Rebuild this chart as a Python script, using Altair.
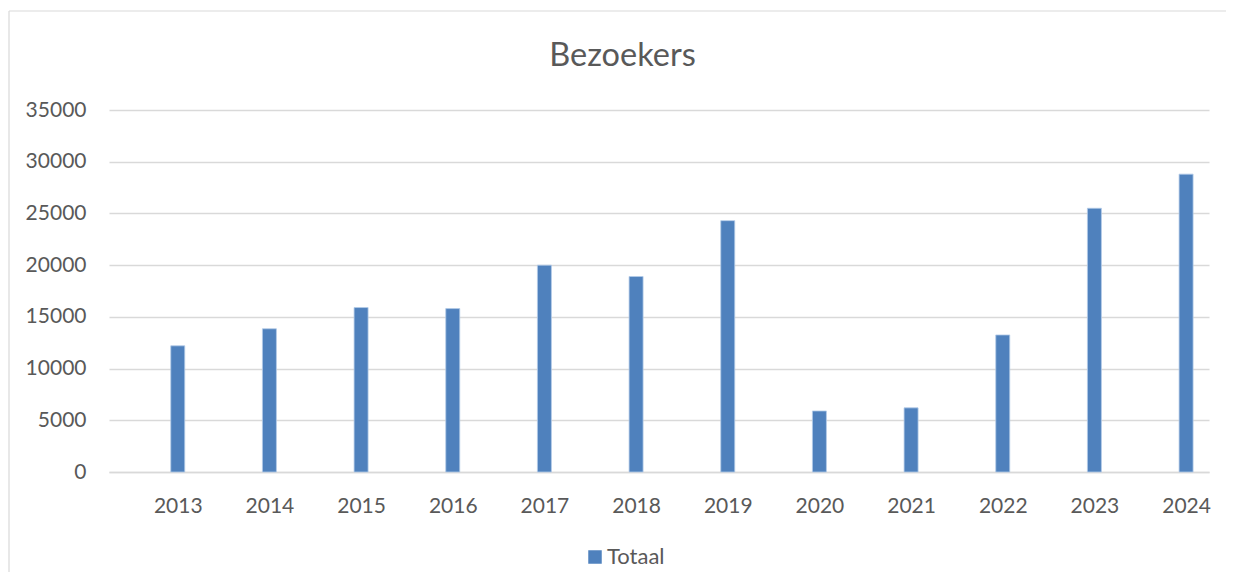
import altair as alt
import pandas as pd

years = [2013, 2014, 2015, 2016, 2017, 2018, 2019, 2020, 2021, 2022, 2023, 2024]
visitors = [12200, 13850, 15900, 15800, 20000, 18900, 24300, 5900, 6200, 13250, 25500, 28800]
series = ["Totaal"] * len(years)
y_ticks = [0, 5000, 10000, 15000, 20000, 25000, 30000, 35000]

df = pd.DataFrame({"jaar": years, "bezoekers": visitors, "reeks": series})

FONT = "Lato"
TXT = "#595959"
GRID = "#d9d9d9"

bars = alt.Chart(df).mark_bar(
    size=14, color="#4f81bd", stroke="#b4cbe8", strokeWidth=0.8
).encode(
    x=alt.X(
        "jaar:Q",
        scale=alt.Scale(domain=[2012.25, 2024.25], nice=False, zero=False, padding=0),
        axis=alt.Axis(
            values=years, format="d", title=None, grid=False, ticks=False, tickSize=0,
            domain=True, domainColor=GRID, domainWidth=1.5,
            labelFont=FONT, labelFontSize=21, labelColor=TXT, labelPadding=23,
            labelFlush=False,
        ),
    ),
    y=alt.Y(
        "bezoekers:Q",
        scale=alt.Scale(domain=[0, 35000], nice=False, padding=0),
        axis=alt.Axis(
            values=y_ticks, format="d", title=None, grid=True, gridColor=GRID, gridWidth=1.3,
            ticks=False, tickSize=0, domain=False,
            labelFont=FONT, labelFontSize=21, labelColor=TXT, labelPadding=23,
        ),
    ),
    color=alt.Color(
        "reeks:N",
        scale=alt.Scale(range=["#4f81bd"]),
        legend=alt.Legend(
            title=None, orient="none", legendX=475, legendY=436, padding=0,
            symbolType="square", symbolSize=182, symbolStrokeWidth=0,
            labelFont=FONT, labelFontSize=22, labelColor=TXT, labelOffset=1,
        ),
    ),
)

frame_df = pd.DataFrame({"a": [0]})
left_border = alt.Chart(frame_df).mark_rule(color=GRID, strokeWidth=1.2).encode(
    x=alt.value(-100), y=alt.value(-99), y2=alt.value(600)
)
top_border = alt.Chart(frame_df).mark_rule(color=GRID, strokeWidth=1.2).encode(
    y=alt.value(-99), x=alt.value(-100), x2=alt.value(1300)
)

chart = alt.layer(left_border, top_border, bars).properties(
    width=1100,
    height=362,
    background="white",
    title=alt.TitleParams(
        "Bezoekers", font=FONT, fontSize=32.5, fontWeight="normal", color=TXT,
        anchor="middle", dx=-36.5, offset=44, dy=132, baseline="alphabetic",
    ),
    autosize=alt.AutoSizeParams(type="none"),
    padding={"left": 101, "top": 102, "right": 17, "bottom": 100},
).configure_view(stroke=None)

chart.save("out.html", embed_options={"renderer": "svg", "actions": False})
